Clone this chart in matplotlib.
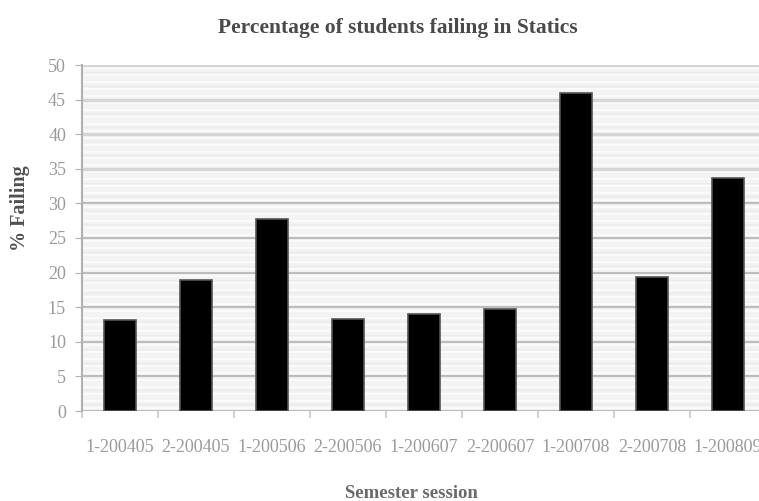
import matplotlib
matplotlib.use("Agg")
import matplotlib.pyplot as plt
import numpy as np

# Semester sessions and failure percentages
sessions = ["1-200405", "2-200405", "1-200506", "2-200506", "1-200607",
            "2-200607", "1-200708", "2-200708", "1-200809"]
pct_failing = [13.2, 18.9, 27.7, 13.3, 14.0, 14.8, 46.0, 19.3, 33.6]
y_ticks = [0, 5, 10, 15, 20, 25, 30, 35, 40, 45, 50]

plt.rcParams["font.family"] = ["Liberation Serif", "DejaVu Serif"]

fig = plt.figure(figsize=(7.59, 5.01), dpi=100)
ax = fig.add_axes([82 / 759, 1 - 411 / 501, 684 / 759, 346 / 501])

ax.set_facecolor("#f3f3f3")
ax.set_xlim(0, len(sessions))
ax.set_ylim(0, 50)

# faint banding between the major gridlines
for yv in np.arange(0.5, 50, 1.0):
    ax.axhline(yv, color="#fbfbfb", lw=1.4, zorder=0.5)
for yv in np.arange(1.0, 50, 2.0):
    ax.axhline(yv, color="#ebebeb", lw=1.0, zorder=0.5)

# major gridlines: lighter, wider bands at the top
for yv in y_ticks:
    if yv >= 35:
        ax.axhline(yv, color="#d6d6d6", lw=2.4, zorder=1)
    else:
        ax.axhline(yv, color="#bdbdbd", lw=1.5, zorder=1)

x = np.arange(len(sessions)) + 0.5
ax.bar(x, pct_failing, width=0.41, color="black", edgecolor="#555555",
       linewidth=1.2, zorder=3)

ax.set_yticks(y_ticks)
ax.set_yticklabels([str(v) for v in y_ticks], fontsize=13, color="#9a9a9a")
ax.set_xticks(x)
ax.set_xticklabels(sessions, fontsize=13, color="#9a9a9a")
ax.tick_params(axis="x", length=0, pad=20)
ax.tick_params(axis="y", length=5, color="#b0b0b0", pad=6.5)

# category boundary ticks below the axis
ax.set_xticks(np.arange(0, len(sessions) + 1), minor=True)
ax.tick_params(axis="x", which="minor", length=5, color="#c8c8c8", width=1.2)

for side in ("top", "right", "bottom"):
    ax.spines[side].set_visible(False)
ax.spines["left"].set_color("#b0b0b0")
ax.spines["left"].set_linewidth(1.5)

fig.text(398 / 759, 1 - 28 / 501, "Percentage of students failing in Statics",
         ha="center", va="center", fontsize=15.5, fontweight="bold", color="#4a4a4a")
fig.text(20 / 759, 1 - 208 / 501, "% Failing", ha="center", va="center",
         rotation=90, fontsize=14.5, fontweight="bold", color="#505050")
fig.text(411 / 759, 1 - 493 / 501, "Semester session", ha="center", va="center",
         fontsize=13.5, fontweight="bold", color="#6a6a6a")

fig.savefig("out.png", dpi=100)
